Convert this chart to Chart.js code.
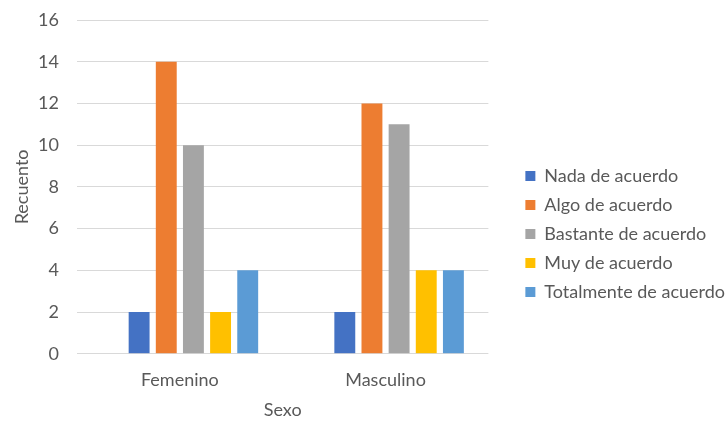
<!DOCTYPE html>
<html>
<head>
<meta charset="utf-8">
<script src="https://cdn.jsdelivr.net/npm/chart.js@4.4.0/dist/chart.umd.min.js"></script>
<style>
  html, body { margin: 0; padding: 0; background: #fff; }
  #wrap { width: 725px; height: 423px; }
</style>
</head>
<body>
<div id="wrap"><canvas id="chart"></canvas></div>
<script>
// data
const categories = ["Femenino", "Masculino"];
const seriesNames = ["Nada de acuerdo", "Algo de acuerdo", "Bastante de acuerdo", "Muy de acuerdo", "Totalmente de acuerdo"];
const nada = [2, 2];
const algo = [14, 12];
const bastante = [10, 11];
const muy = [2, 4];
const totalmente = [4, 4];
const colors = ["#4472C4", "#ED7D31", "#A5A5A5", "#FFC000", "#5B9BD5"];

const textColor = "#595959";
const fontFamily = "Lato, sans-serif";

// the legend sits a bit right of / below where chart.js would center it
const legendShift = { x: 26, y: 13.5 };
const legendPlace = {
  id: "legendPlace",
  afterLayout(chart) {
    const lg = chart.legend;
    lg.left += legendShift.x;
    lg.right += legendShift.x;
    lg.top += legendShift.y;
    lg.bottom += legendShift.y;
  }
};

function drawChart() {
  const values = [nada, algo, bastante, muy, totalmente];
  const datasets = [
    // empty spacer slot: the groups sit a bit right of the label in the original
    { label: "", data: [null, null], backgroundColor: "rgba(0,0,0,0)" }
  ];
  seriesNames.forEach(function (name, i) {
    datasets.push({ label: name, data: values[i], backgroundColor: colors[i] });
  });

  new Chart(document.getElementById("chart"), {
    type: "bar",
    data: { labels: categories, datasets: datasets },
    plugins: [legendPlace],
    options: {
      responsive: true,
      maintainAspectRatio: false,
      animation: false,
      categoryPercentage: 0.792,
      barPercentage: 0.77,
      layout: { padding: { top: 20, right: 16, left: 9, bottom: 2 } },
      plugins: {
        tooltip: { enabled: false },
        legend: {
          position: "right",
          align: "center",
          maxWidth: 320,
          labels: {
            filter: function (item) { return item.text !== ""; },
            boxWidth: 10,
            boxHeight: 10,
            padding: 11,
            color: textColor,
            font: { family: fontFamily, size: 18 }
          }
        }
      },
      scales: {
        x: {
          grid: { display: false },
          border: { display: false },
          ticks: { color: textColor, font: { family: fontFamily, size: 18 }, padding: 8 },
          title: { display: true, text: "Sexo", color: textColor, font: { family: fontFamily, size: 18 }, padding: { top: 0, bottom: 0 } }
        },
        y: {
          min: 0,
          max: 16,
          afterFit: function (scale) {
            scale.width = 68;
            scale.paddingTop = 0;
          },
          grid: { color: "#D9D9D9", lineWidth: 1, drawTicks: false },
          border: { display: false },
          ticks: { stepSize: 2, color: textColor, font: { family: fontFamily, size: 18 }, padding: 18 },
          title: { display: true, text: "Recuento", color: textColor, font: { family: fontFamily, size: 18 }, padding: { top: 2, bottom: 0 } }
        }
      }
    }
  });
}

document.fonts.load("18px Lato").then(drawChart, drawChart);
</script>
</body>
</html>
